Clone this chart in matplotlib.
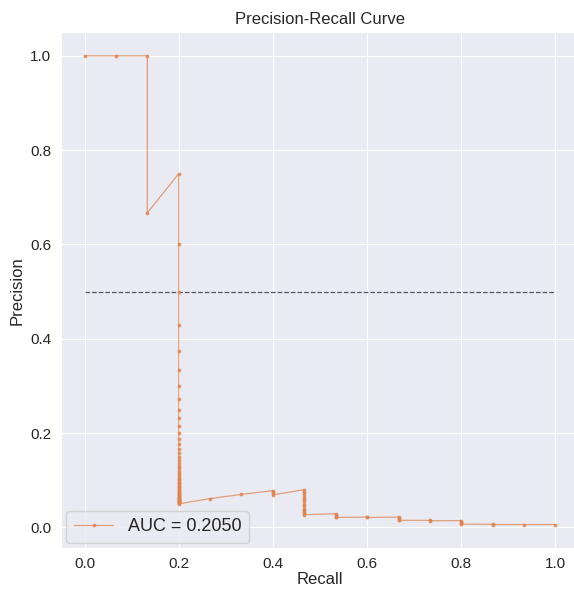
import matplotlib
matplotlib.use("Agg")
import matplotlib.pyplot as plt
import seaborn as sns
import numpy as np

sns.set_style("darkgrid")
plt.rcParams['font.family'] = ['Liberation Sans', 'DejaVu Sans']

# recall levels (k/15) and the precision values observed at each level
recall_levels = [0.0, 0.0667, 0.1333, 0.2, 0.2667, 0.3333, 0.4, 0.4667,
                 0.5333, 0.6, 0.6667, 0.7333, 0.8, 0.8667, 0.9333, 1.0]
precision_by_level = [
    [1.0],
    [1.0],
    [1.0, 0.667],
    [0.75, 0.60, 0.50, 0.43, 0.375, 0.333, 0.30, 0.273, 0.25, 0.231, 0.214,
     0.20, 0.1875, 0.176, 0.167, 0.158, 0.15, 0.143, 0.136, 0.13, 0.125,
     0.12, 0.115, 0.111, 0.107, 0.103, 0.10, 0.097, 0.094, 0.091, 0.088,
     0.086, 0.083, 0.081, 0.079, 0.077, 0.075, 0.073, 0.071, 0.07, 0.068,
     0.067, 0.065, 0.064, 0.0625, 0.061, 0.06, 0.059, 0.058, 0.057, 0.056,
     0.055, 0.054, 0.053, 0.052, 0.051, 0.05],
    [0.061],
    [0.070],
    [0.078, 0.075, 0.072, 0.069],
    [0.080, 0.075, 0.07, 0.065, 0.06, 0.055, 0.05, 0.045, 0.04, 0.036,
     0.033, 0.03, 0.027],
    [0.029, 0.026, 0.023, 0.021],
    [0.022, 0.021],
    [0.022, 0.019, 0.016, 0.015],
    [0.015, 0.014],
    [0.0145, 0.012, 0.009, 0.007],
    [0.0065, 0.006],
    [0.006],
    [0.006],
]
auc_label = "AUC = 0.2050"
no_skill = 0.5

recall = []
precision = []
for r, ps in zip(recall_levels, precision_by_level):
    for p in ps:
        recall.append(r)
        precision.append(p)

fig = plt.figure(figsize=(5.74, 5.89), dpi=100)
ax = fig.add_axes([61/574, 1 - 548/589, 518/574, (548 - 32.4)/589])

ax.plot([0, 1], [no_skill, no_skill], linestyle='--', color='#555566',
        linewidth=0.9)
ax.plot(recall, precision, marker='.', markersize=3.5, color='#DD8452',
        linewidth=0.9, alpha=0.75, label=auc_label)

ax.set_title("Precision-Recall Curve", fontsize=12)
ax.set_xlabel("Recall", fontsize=12, labelpad=1)
ax.set_ylabel("Precision", fontsize=12)
ax.tick_params(axis='x', labelsize=11, pad=3)
ax.tick_params(axis='y', labelsize=11)
ax.set_xticks([0.0, 0.2, 0.4, 0.6, 0.8, 1.0])
ax.set_yticks([0.0, 0.2, 0.4, 0.6, 0.8, 1.0])
ax.legend(loc='lower left', fontsize=13, borderaxespad=0.3, handlelength=2.2)

fig.savefig("out.png", dpi=100)
